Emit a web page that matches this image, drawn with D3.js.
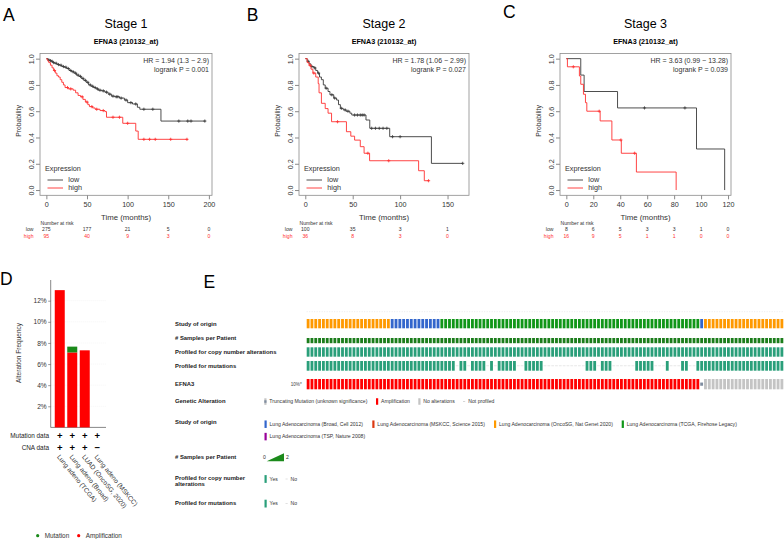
<!DOCTYPE html>
<html><head><meta charset="utf-8">
<script src="https://cdn.jsdelivr.net/npm/d3@7/dist/d3.min.js"></script>
<style>body{margin:0;background:#fff}svg{display:block;font-family:"Liberation Sans",Arial,sans-serif}</style>
</head><body><svg id="c" width="784" height="539"></svg>
<script>
// ---------------- DATA ----------------
// Kaplan-Meier steps: [time (months), survival]
const stage1Low = [[0,1],[2,0.99],[4,0.985],[6,0.98],[8,0.97],[10,0.965],[13,0.955],[16,0.95],[19,0.94],[22,0.935],[25,0.925],[28,0.91],[31,0.9],[34,0.89],[37,0.875],[40,0.865],[43,0.85],[46,0.835],[49,0.82],[52,0.8],[55,0.79],[58,0.78],[61,0.77],[64,0.76],[68,0.755],[72,0.745],[76,0.73],[80,0.715],[84,0.71],[90,0.7],[96,0.685],[100,0.665],[106,0.655],[112,0.63],[115,0.615],[141,0.525],[196,0.525]];
const stage1LowCens = [3,5,7,9,12,15,18,21,24,27,30,33,36,39,42,45,48,51,54,57,60,63,66,70,74,78,82,86,88,92,98,104,110,120,131,163,174,178,195];
const stage1High = [[0,1],[1,0.99],[2,0.98],[3,0.97],[5,0.95],[7,0.93],[9,0.91],[11,0.89],[13,0.87],[15,0.86],[17,0.84],[19,0.82],[21,0.8],[23,0.78],[27,0.77],[33,0.76],[36,0.74],[39,0.72],[42,0.71],[45,0.69],[48,0.67],[51,0.65],[53,0.635],[57,0.625],[60,0.615],[66,0.605],[72,0.597],[74,0.554],[94,0.508],[110,0.449],[113,0.386],[174,0.386]];
const stage1HighCens = [10,26,30,44,50,56,62,70,82,90,100,120,127,134,153,173];

const stage2Low = [[0,1],[2,0.98],[4,0.96],[6,0.94],[9,0.93],[11,0.91],[13,0.89],[15,0.86],[17,0.84],[19,0.8],[21,0.775],[24,0.75],[26,0.725],[30,0.7],[33,0.685],[35,0.65],[37,0.622],[40,0.61],[43,0.6],[47,0.585],[49,0.571],[64,0.533],[68,0.47],[89,0.406],[133,0.203],[166,0.203]];
const stage2LowCens = [3,7,10,14,22,28,31,38,42,45,52,55,58,60,62,70,74,78,82,86,92,100,166];
const stage2High = [[0,1],[2,0.97],[4,0.95],[6,0.92],[8,0.89],[11,0.86],[13.6,0.81],[14.5,0.74],[17,0.66],[21,0.62],[24,0.585],[27.7,0.52],[43.4,0.444],[48,0.41],[52,0.38],[58,0.33],[62,0.28],[67.8,0.223],[119.5,0.147],[125.5,0.071],[130.7,0.071]];
const stage2HighCens = [5,9,34,66,88,130];

const stage3Low = [[0,1],[10.7,0.875],[13.2,0.75],[38,0.625],[96.6,0.3125],[117.5,0]];
const stage3LowCens = [58,88];
const stage3High = [[0,1],[0.8,0.938],[9.7,0.868],[10.7,0.805],[12.7,0.729],[14.2,0.665],[15.2,0.6],[25.1,0.526],[33.8,0.381],[40.8,0.28],[52,0.137],[81.5,0]];
const stage3HighCens = [5.2,24.4,40.5,50.7];

const timeTicksA = [0,50,100,150,200];
const riskLowA = [275,177,21,5,0];
const riskHighA = [95,40,9,3,0];
const timeTicksB = [0,50,100,150];
const riskLowB = [100,35,3,1];
const riskHighB = [36,8,3,0];
const timeTicksC = [0,20,40,60,80,100,120];
const riskLowC = [8,6,5,3,3,1,0];
const riskHighC = [16,9,5,1,1,0,0];
const probTicks = [0,0.2,0.4,0.6,0.8,1.0];

// Panel D
const dStudies = ["Lung adeno (TCGA)","Lung adeno (Broad)","LUAD (OncoSG, 2020)","Lung adeno (MSKCC)"];
const dAmp = [13.0,7.1,7.3,0];
const dMut = [0,0.55,0,0];
const dMutData = ["+","+","+","+"];
const dCnaData = ["+","+","+","\u2212"];
const dTicks = [2,4,6,8,10,12];

// Panel E (oncoprint), run-length encoded columns
const studyRuns = [["OncoSG",22],["Broad",13],["TCGA",68],["Broad",1],["OncoSG",21]];
const alterationRuns = [["amp",103],["trunc",1],["none",21]];
const mutNotProfiled = [39,42,47,49,55,56,62,63,64,65,66,67,68,69,70,71,72,76,80,81,82,83,84,85,91,92,93,95,96,97,100,101];
const studyLegend = [["Broad","Lung Adenocarcinoma (Broad, Cell 2012)"],["MSKCC","Lung Adenocarcinoma (MSKCC, Science 2015)"],["OncoSG","Lung Adenocarcinoma (OncoSG, Nat Genet 2020)"],["TCGA","Lung Adenocarcinoma (TCGA, Firehose Legacy)"],["TSP","Lung Adenocarcinoma (TSP, Nature 2008)"]];

// ---------------- DRAW ----------------
const svg = d3.select("#c");
const RED = "#ff3030", BLK = "#3a3a3a";

function letter(t,x,y){svg.append("text").attr("x",x).attr("y",y).attr("font-size",17.5).text(t);}

function drawKM(p){
  const g = svg.append("g");
  const all = p.low.concat(p.high);
  const maxT = d3.max(all, d=>d[0]);
  const x = d3.scaleLinear().domain([-0.04*maxT, 1.04*maxT]).range([p.x0,p.x1]);
  const y = d3.scaleLinear().domain([-0.04,1.04]).range([195.3,53.4]);
  const cx = (p.x0+p.x1)/2;
  g.append("text").attr("x",cx).attr("y",28.3).attr("text-anchor","middle").attr("font-size",12.5).text(p.title);
  g.append("text").attr("x",cx).attr("y",43.5).attr("text-anchor","middle").attr("font-size",7.2).attr("font-weight","bold").text("EFNA3 (210132_at)");
  g.append("rect").attr("x",p.x0).attr("y",53.4).attr("width",p.x1-p.x0).attr("height",195.3-53.4).attr("fill","none").attr("stroke","#8a8a8a").attr("stroke-width",0.8);
  const xa = g.append("g").attr("transform","translate(0,195.3)").call(d3.axisBottom(x).tickValues(p.ticks).tickSize(4).tickPadding(2.4).tickFormat(d3.format("d")));
  xa.select(".domain").remove();
  xa.selectAll("line").attr("stroke","#8a8a8a");
  xa.selectAll("text").attr("font-size",7.2).attr("font-family","Liberation Sans, Arial").attr("fill","#333");
  const ya = g.append("g").attr("transform",`translate(${p.x0},0)`).call(d3.axisLeft(y).tickValues(probTicks).tickSize(4).tickFormat(d3.format(".1f")));
  ya.select(".domain").remove();
  ya.selectAll("line").attr("stroke","#8a8a8a");
  ya.selectAll("text").attr("font-size",7.2).attr("font-family","Liberation Sans, Arial").attr("fill","#333")
    .attr("x",0).attr("dy",0).attr("text-anchor","middle").attr("transform","translate(-6.5,0) rotate(-90)");
  g.append("text").attr("transform",`translate(${p.x0-19},121) rotate(-90)`).attr("text-anchor","middle").attr("font-size",6.8).attr("fill","#333").text("Probability");
  g.append("text").attr("x",cx).attr("y",219.5).attr("text-anchor","middle").attr("font-size",7.8).attr("fill","#333").text("Time (months)");
  // HR text
  g.append("text").attr("x",p.x1-3).attr("y",63.3).attr("text-anchor","end").attr("font-size",7).attr("fill","#333").text(p.hr);
  g.append("text").attr("x",p.x1-3).attr("y",71.7).attr("text-anchor","end").attr("font-size",7).attr("fill","#333").text(p.pv);
  // curves
  const line = d3.line().x(d=>x(d[0])).y(d=>y(d[1])).curve(d3.curveStepAfter);
  const surv = (c,t)=>{let s=c[0][1]; for(const d of c){ if(d[0]<=t) s=d[1]; } return s;};
  [[p.low,p.lowCens,BLK],[p.high,p.highCens,RED]].forEach(([c,cens,col])=>{
    g.append("path").attr("d",line(c)).attr("fill","none").attr("stroke",col).attr("stroke-width",0.9);
    cens.forEach(t=>{
      const px=x(t), py=y(surv(c,t));
      g.append("path").attr("d",`M${px-1.6},${py}H${px+1.6}M${px},${py-1.6}V${py+1.6}`).attr("stroke",col).attr("stroke-width",0.8);
    });
  });
  // legend
  g.append("text").attr("x",p.x0+5).attr("y",171.3).attr("font-size",7.25).attr("fill","#333").text("Expression");
  [["low",BLK,180],["high",RED,188]].forEach(([t,col,yy])=>{
    g.append("line").attr("x1",p.x0+7.5).attr("x2",p.x0+23).attr("y1",yy).attr("y2",yy).attr("stroke",col).attr("stroke-width",0.9);
    g.append("text").attr("x",p.x0+28.3).attr("y",yy+2.4).attr("font-size",7.25).attr("fill","#333").text(t);
  });
  // numbers at risk
  g.append("text").attr("x",p.x0+0.5).attr("y",225.3).attr("font-size",5.1).attr("fill","#333").text("Number at risk");
  g.append("text").attr("x",p.x0-6.5).attr("y",231.3).attr("text-anchor","end").attr("font-size",5.1).attr("fill","#333").text("low");
  g.append("text").attr("x",p.x0-6.5).attr("y",237.6).attr("text-anchor","end").attr("font-size",5.1).attr("fill",RED).text("high");
  p.ticks.forEach((t,i)=>{
    g.append("text").attr("x",x(t)).attr("y",231.3).attr("text-anchor","middle").attr("font-size",5.1).attr("fill","#333").text(p.rl[i]);
    g.append("text").attr("x",x(t)).attr("y",237.6).attr("text-anchor","middle").attr("font-size",5.1).attr("fill",RED).text(p.rh[i]);
  });
}

drawKM({title:"Stage 1",x0:40,x1:212,low:stage1Low,lowCens:stage1LowCens,high:stage1High,highCens:stage1HighCens,ticks:timeTicksA,rl:riskLowA,rh:riskHighA,hr:"HR = 1.94 (1.3 \u2212 2.9)",pv:"logrank P = 0.001"});
drawKM({title:"Stage 2",x0:299,x1:469,low:stage2Low,lowCens:stage2LowCens,high:stage2High,highCens:stage2HighCens,ticks:timeTicksB,rl:riskLowB,rh:riskHighB,hr:"HR = 1.78 (1.06 \u2212 2.99)",pv:"logrank P = 0.027"});
drawKM({title:"Stage 3",x0:560,x1:731,low:stage3Low,lowCens:stage3LowCens,high:stage3High,highCens:stage3HighCens,ticks:timeTicksC,rl:riskLowC,rh:riskHighC,hr:"HR = 3.63 (0.99 \u2212 13.28)",pv:"logrank P = 0.039"});

letter("A",3,20.7); letter("B",246.7,20.7); letter("C",503,17.5);
letter("D",0,285); letter("E",203.5,288.3);

// ---------- Panel D ----------
(function(){
  const g = svg.append("g");
  const y = d3.scaleLinear().domain([0,12]).range([427.4,300.7]);
  const x = d3.scaleBand().domain(dStudies).range([53.5,103.5]).paddingInner(0.2).paddingOuter(0.1);
  dTicks.forEach(t=>{
    g.append("line").attr("x1",50.7).attr("x2",106).attr("y1",y(t)).attr("y2",y(t)).attr("stroke","#ececec").attr("stroke-width",0.5).attr("stroke-dasharray","1,1");
  });
  const ya = g.append("g").attr("transform","translate(50.7,0)").call(d3.axisLeft(y).tickValues(dTicks).tickSize(2.5).tickPadding(1.5).tickFormat(d=>d+"%"));
  ya.select(".domain").remove();
  ya.selectAll("line").attr("stroke","#555").attr("stroke-width",0.6);
  ya.selectAll("text").attr("font-size",6.6).attr("font-family","Liberation Sans, Arial").attr("fill","#333");
  g.append("line").attr("x1",50.7).attr("x2",50.7).attr("y1",280).attr("y2",427.4).attr("stroke","#555").attr("stroke-width",0.7);
  g.append("line").attr("x1",50.7).attr("x2",106).attr("y1",427.4).attr("y2",427.4).attr("stroke","#555").attr("stroke-width",0.7);
  dStudies.forEach((s,i)=>{
    if(dAmp[i]>0) g.append("rect").attr("x",x(s)).attr("width",x.bandwidth()).attr("y",y(dAmp[i])).attr("height",y(0)-y(dAmp[i])).attr("fill","#ff0000");
    if(dMut[i]>0) g.append("rect").attr("x",x(s)).attr("width",x.bandwidth()).attr("y",y(dAmp[i]+dMut[i])).attr("height",y(dAmp[i])-y(dAmp[i]+dMut[i])).attr("fill","#1a8a1a");
    const cx = x(s)+x.bandwidth()/2;
    g.append("text").attr("x",cx).attr("y",438.5).attr("text-anchor","middle").attr("font-size",9.5).attr("font-weight","bold").text(dMutData[i]);
    g.append("text").attr("x",cx).attr("y",451).attr("text-anchor","middle").attr("font-size",9.5).attr("font-weight","bold").text(dCnaData[i]);
    g.append("text").attr("transform",`translate(${cx-3},457) rotate(51)`).attr("font-size",6.5).attr("fill","#333").text(s);
  });
  g.append("text").attr("x",49).attr("y",437.6).attr("text-anchor","end").attr("font-size",6.4).attr("fill","#222").text("Mutation data");
  g.append("text").attr("x",49).attr("y",450).attr("text-anchor","end").attr("font-size",6.4).attr("fill","#222").text("CNA data");
  g.append("text").attr("transform","translate(21,353) rotate(-90)").attr("text-anchor","middle").attr("font-size",6.5).attr("fill","#333").text("Alteration Frequency");
  [["Mutation","#1a8a1a",37.7],["Amplification","#ff0000",78.7]].forEach(([t,c,xx])=>{
    g.append("circle").attr("cx",xx).attr("cy",535.7).attr("r",1.6).attr("fill",c);
    g.append("text").attr("x",xx+7).attr("y",538).attr("font-size",6.4).attr("fill","#333").text(t);
  });
})();

// ---------- Panel E ----------
(function(){
  const g = svg.append("g");
  const studyColor = {Broad:"#3366cc",MSKCC:"#dc3912",OncoSG:"#ff9900",TCGA:"#109618",TSP:"#990099"};
  const PROF = "#2a9f7a", SAMP = "#1b7d1b";
  const studyCols = studyRuns.flatMap(([s,n])=>Array(n).fill(s));
  const altCols = alterationRuns.flatMap(([a,n])=>Array(n).fill(a));
  const cols = d3.range(studyCols.length);
  const x = d3.scaleBand().domain(cols).range([306.7,783.3]).paddingInner(0.26);
  const bw = x.bandwidth();
  const rows = {study:[319,9.3],samp:[338,5.2],cna:[347.3,9.4],mut:[361,9.7],gene:[379,10.3]};
  const labels = [["Study of origin",323.7],["# Samples per Patient",337.7],["Profiled for copy number alterations",351.7],["Profiled for mutations",366],["EFNA3",384.3],["Genetic Alteration",401.3],["Study of origin",422.3],["# Samples per Patient",456.7],["Profiled for copy number",478],["alterations",483.7],["Profiled for mutations",503]];
  labels.forEach(([t,yy])=>g.append("text").attr("x",175).attr("y",yy+2).attr("font-size",5.9).attr("font-weight","bold").attr("fill","#222").text(t));
  g.append("line").attr("x1",306.7).attr("x2",783.3).attr("y1",311.7).attr("y2",311.7).attr("stroke","#e4e4e4").attr("stroke-width",0.7).attr("stroke-dasharray","1,1.5");
  g.append("text").attr("x",301.7).attr("y",386).attr("text-anchor","end").attr("font-size",4.6).attr("fill","#444").text("10%*");
  cols.forEach(i=>{
    const xx = x(i);
    g.append("rect").attr("x",xx).attr("y",rows.study[0]).attr("width",bw).attr("height",rows.study[1]).attr("fill",studyColor[studyCols[i]]);
    g.append("rect").attr("x",xx).attr("y",rows.samp[0]).attr("width",bw).attr("height",rows.samp[1]).attr("fill",SAMP);
    g.append("rect").attr("x",xx).attr("y",rows.cna[0]).attr("width",bw).attr("height",rows.cna[1]).attr("fill",PROF);
    if(mutNotProfiled.includes(i)) g.append("rect").attr("x",xx).attr("y",rows.mut[0]+rows.mut[1]/2-0.3).attr("width",bw).attr("height",0.6).attr("fill","#d8d8d8");
    else g.append("rect").attr("x",xx).attr("y",rows.mut[0]).attr("width",bw).attr("height",rows.mut[1]).attr("fill",PROF);
    const a = altCols[i];
    if(a==="amp") g.append("rect").attr("x",xx).attr("y",rows.gene[0]).attr("width",bw).attr("height",rows.gene[1]).attr("fill","#ff0000");
    else if(a==="none") g.append("rect").attr("x",xx).attr("y",rows.gene[0]).attr("width",bw).attr("height",rows.gene[1]).attr("fill","#c4c4c4");
    else g.append("rect").attr("x",xx).attr("y",rows.gene[0]+rows.gene[1]/2-1.6).attr("width",bw).attr("height",3.2).attr("fill","#7f8da0");
  });
  // legends
  const fs = 5.1;
  function item(xx,yy,col,t,h,w){
    g.append("rect").attr("x",xx).attr("y",yy-h/2).attr("width",w||2.2).attr("height",h).attr("fill",col);
    g.append("text").attr("x",xx+5).attr("y",yy+1.8).attr("font-size",fs).attr("fill","#333").text(t);
  }
  // genetic alteration
  g.append("rect").attr("x",264.3).attr("y",398.3).attr("width",2.2).attr("height",6.5).attr("fill","#c4c4c4");
  g.append("rect").attr("x",264.3).attr("y",400.3).attr("width",2.2).attr("height",2.5).attr("fill","#7f8da0");
  g.append("text").attr("x",269.3).attr("y",403.1).attr("font-size",fs).attr("fill","#333").text("Truncating Mutation (unknown significance)");
  item(376,401.5,"#ff0000","Amplification",6.5);
  item(418.3,401.5,"#c4c4c4","No alterations",6.5);
  g.append("rect").attr("x",463).attr("y",401.2).attr("width",2.2).attr("height",0.6).attr("fill","#bbb");
  g.append("text").attr("x",468.3).attr("y",403.1).attr("font-size",fs).attr("fill","#333").text("Not profiled");
  // study legend
  const sx = [264.5,372.3,494,621.7,264.5], sy=[424.2,424.2,424.2,424.2,436.6];
  studyLegend.forEach(([k,t],i)=>item(sx[i],sy[i],studyColor[k],t,7.5));
  // samples per patient
  g.append("text").attr("x",264.3).attr("y",458.6).attr("text-anchor","middle").attr("font-size",fs).attr("fill","#333").text("0");
  g.append("path").attr("d","M266.7,461.2L284,461.2L284,453.3Z").attr("fill","#1b8a1b");
  g.append("text").attr("x",287.5).attr("y",458.6).attr("text-anchor","middle").attr("font-size",fs).attr("fill","#333").text("2");
  // profiled
  [[479,"cna"],[503.6,"mut"]].forEach(([yy])=>{
    item(264.5,yy,PROF,"Yes",7.8);
    g.append("rect").attr("x",285.5).attr("y",yy-0.3).attr("width",2.2).attr("height",0.6).attr("fill","#ccc");
    g.append("text").attr("x",290.5).attr("y",yy+1.8).attr("font-size",fs).attr("fill","#333").text("No");
  });
})();
</script></body></html>
